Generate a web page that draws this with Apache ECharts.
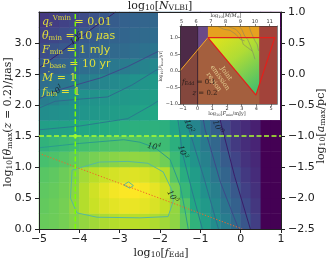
<!DOCTYPE html>
<html><head><meta charset="utf-8">
<script src="https://cdn.jsdelivr.net/npm/echarts@6/dist/echarts.min.js"></script>
<style>html,body{margin:0;padding:0;background:#fff}#c{width:330px;height:263px}</style>
</head><body><div id="c"></div>
<script>
// ---------- DATA ----------
const xCenters = [-4.875,-4.625,-4.375,-4.125,-3.875,-3.625,-3.375,-3.125,-2.875,-2.625,-2.375,-2.125,-1.875,-1.625,-1.375,-1.125,-0.875,-0.625,-0.375,-0.125,0.125,0.375,0.625,0.875];
const yCenters = [0.125,0.375,0.625,0.875,1.125,1.375,1.625,1.875,2.125,2.375,2.625,2.875,3.125,3.375];
// log10 N colour field, rows from bottom (y=0.125) to top (y=3.375)
const fieldRows = [
 [4.15,4.2,4.3,4.45,4.6,4.72,4.82,4.9,4.95,4.95,4.92,4.85,4.72,4.55,4.05,3.4,2.9,2.42,2.0,1.55,1.05,0.52,-0.6,-0.6],
 [4.1,4.18,4.3,4.55,4.9,5.1,5.25,5.35,5.42,5.42,5.36,5.25,5.05,4.6,3.9,3.1,2.72,2.25,1.8,1.3,0.8,0.38,-0.6,-0.6],
 [4.05,4.12,4.25,4.5,4.9,5.15,5.35,5.5,5.58,5.6,5.52,5.38,5.15,4.35,3.5,2.95,2.5,2.05,1.6,1.12,0.57,0.27,-0.6,-0.6],
 [3.97,4.05,4.2,4.4,4.75,4.95,5.1,5.2,5.28,5.3,5.25,5.12,4.92,3.95,3.25,2.8,2.3,1.85,1.4,0.9,0.42,0.18,-0.6,-0.6],
 [3.78,3.85,3.95,4.08,4.2,4.32,4.42,4.5,4.55,4.57,4.55,4.45,4.25,3.6,3.0,2.58,2.1,1.66,1.18,0.65,0.3,0.1,-0.6,-0.6],
 [3.4,3.5,3.58,3.66,3.73,3.78,3.83,3.86,3.88,3.87,3.8,3.72,3.62,3.3,2.85,2.36,1.92,1.45,0.95,0.45,0.2,0.02,-0.6,-0.6],
 [2.88,2.92,2.97,3.02,3.07,3.12,3.17,3.22,3.27,3.3,3.32,3.33,3.3,3.05,2.65,2.2,1.75,1.25,0.75,0.35,0.15,-0.05,-0.6,-0.6],
 [2.4,2.45,2.5,2.55,2.6,2.65,2.72,2.8,2.85,2.92,3.0,3.1,3.2,2.9,2.45,1.95,1.5,1.05,0.5,0.25,0.05,-0.1,-0.6,-0.6],
 [2.0,2.12,2.3,2.45,2.5,2.55,2.6,2.65,2.7,2.75,2.8,2.87,2.95,2.72,2.25,1.8,1.3,0.8,0.38,0.2,0.02,-0.1,-0.6,-0.6],
 [1.6,1.72,1.82,1.92,2.0,2.1,2.2,2.3,2.42,2.52,2.62,2.72,2.8,2.5,2.05,1.58,1.1,0.55,0.27,0.1,0.0,-0.1,-0.6,-0.6],
 [1.2,1.3,1.4,1.5,1.6,1.7,1.78,1.87,1.95,2.05,2.15,2.3,2.4,2.3,1.85,1.4,0.9,0.42,0.2,0.05,-0.05,-0.1,-0.6,-0.6],
 [0.85,1.0,1.12,1.22,1.3,1.37,1.43,1.5,1.56,1.62,1.7,1.8,1.95,1.95,1.65,1.18,0.65,0.3,0.15,0.0,-0.05,-0.1,-0.6,-0.6],
 [0.6,0.72,0.85,0.97,1.1,1.2,1.28,1.35,1.42,1.48,1.53,1.58,1.62,1.65,1.45,0.95,0.45,0.25,0.12,0.0,-0.05,-0.1,-0.6,-0.6],
 [0.4,0.5,0.6,0.7,0.82,0.95,1.1,1.2,1.3,1.35,1.4,1.45,1.5,1.5,1.25,0.7,0.35,0.2,0.1,0.0,-0.05,-0.1,-0.6,-0.6]
];
// contour lines (x = log10 fEdd, y = log10 theta)
const c0Left  = [[-5,2.6],[-4.5,2.83],[-4.07,3.05],[-3.6,3.27],[-3.1,3.5]];
const c0Right = [[-0.8,3.5],[-0.65,2.5],[-0.51,1.76],[-0.15,0.85],[0.24,0]];
const c1Left  = [[-5,2.1],[-4.53,2.24],[-3.46,2.44],[-2.8,2.62],[-2.12,2.84],[-1.6,3.0]];
const c1Right = [[-1.3,2.9],[-1.05,2.2],[-0.88,1.6],[-0.5,0.75],[-0.05,0]];
const c2Left  = [[-5,1.95],[-4.6,2.06],[-3.9,2.1],[-3.3,2.13],[-2.7,2.32],[-2.1,2.56],[-1.7,2.65]];
const c2Right = [[-1.6,2.5],[-1.42,1.9],[-1.3,1.65],[-0.9,0.8],[-0.55,0]];
const c3Line  = [[-5,1.6],[-4,1.66],[-2.8,1.78],[-2.2,2.0],[-1.85,2.15],[-1.62,2.05],[-1.52,1.6],[-1.45,1.24],[-1.2,0.6],[-0.95,0]];
const c4Line  = [[-5,1.31],[-4,1.38],[-2.9,1.44],[-2.5,1.4],[-2.12,1.31],[-1.75,1.12],[-1.5,0.7],[-1.38,0.3],[-1.3,0]];
const c5Loop  = [[-4.18,0.95],[-3.5,1.08],[-2.8,1.09],[-2.3,1.06],[-1.92,0.92],[-1.72,0.65],[-1.67,0.45],[-1.8,0.2],[-2.5,0.18],[-3.56,0.19],[-4.06,0.26],[-4.22,0.5],[-4.18,0.95]];
const c5Small = [[-2.9,0.71],[-2.78,0.76],[-2.66,0.7],[-2.75,0.66],[-2.9,0.71]];
const contourLabelPos = [[-4.07,3.06],[-4.55,2.22],[-2.15,1.32],[-1.45,1.24],[-1.3,1.66],[-0.58,1.65],[-1.7,0.52]];
const contourLabelExp = ['0','1','4','3','2','0','5'];
const dottedLine = [[-5,1.22],[0.04,0]];
const vLine = [[-4.1,0],[-4.1,3.5]];
const hLine = [[-5,1.5],[1,1.5]];
const crossPoint = [[-4.1,1.5]];
// inset (x = log10 F, y = log10 P)
const insetFrame = [[-1.2,-1.0],[5.4,-1.0],[5.4,1.35],[-1.2,1.35]];
const leftStrip = [[-1.2,-1.0],[0,-1.0],[0,1.35],[-1.2,1.35]];
const leftStripUpper = [[-1.2,0.0],[0,0.63],[0,1.35],[-1.2,1.35]];
const purpleWedge = [[0,0.63],[0.7,1.0],[0.7,1.35],[0,1.35]];
const topBand = [[0.7,1.0],[4.2,1.0],[4.2,1.35],[0.7,1.35]];
const jointRegion = [[0.7,1.0],[4.2,1.0],[4.2,-0.42],[3.97,-0.73]];
const rightStrip = [[4.2,-1.0],[5.4,-1.0],[5.4,1.35],[4.2,1.35]];
const redOutline = [[0.7,1.0],[5.25,1.0],[3.97,-0.73],[0.7,1.0]];
const orangeEdge = [[-1.2,0.0],[0.7,1.0]];
const stripEdge = [[0,-1.0],[0,1.35]];
const grayLines = [
 [[1.4,1.33],[1.8,1.25],[2.2,1.22],[2.6,1.1],[2.9,0.95],[3.2,0.9]],
 [[2.0,1.35],[2.3,1.3],[2.6,1.25],[2.9,1.1],[3.1,0.8],[3.4,0.7],[3.7,0.6]],
 [[2.8,1.35],[3.0,1.25],[3.2,1.05],[3.4,0.95],[3.6,0.75],[3.8,0.5],[3.9,0.35]],
 [[3.5,1.35],[3.6,1.2],[3.75,1.05],[3.9,0.9],[4.05,0.8],[4.15,0.6]]
];
const arrowFrom = [0.3,0.85], arrowTo = [1.18,0.39];
const jointTextPos = [1.52,-0.21];
const feddTextPos = [0.09,-0.33];
const zTextPos = [0.5,-0.67];
const insetFTicks = [-1,0,1,2,3,4,5];
const insetMTicks = [5,6,7,8,9,10,11];
const insetPTicks = [-1,-0.5,0,0.5,1];

// ---------- STYLE ----------
const viridis = ['#440154','#482475','#414487','#355f8d','#2a788e','#21918c','#22a884','#44bf70','#7ad151','#bddf26','#fde725'];
const levelColors = ['#3a1e6a','#3d4a8a','#2f6a8e','#2a7b8e','#2b9c8c','#58b99c'];
const minus = v => (v < 0 ? '\u2212' : '') + Math.abs(v);
const minus1 = v => (v < 0 ? '\u2212' : '') + Math.abs(v).toFixed(1);

const heatData = [];
fieldRows.forEach((row, j) => row.forEach((v, i) => heatData.push([i, j, v])));

const mainLine = (data, color, width, type, z) => ({
  type:'line', xAxisIndex:1, yAxisIndex:1, data, symbol:'none', silent:true,
  lineStyle:{color, width, type}, z
});
const insetLine = (data, color, width, z) => ({
  type:'line', xAxisIndex:3, yAxisIndex:3, data, symbol:'none', silent:true,
  lineStyle:{color, width}, z
});

const contourSets = [
  [c0Left,0],[c0Right,0],[c1Left,1],[c1Right,1],[c2Left,2],[c2Right,2],
  [c3Line,3],[c4Line,4],[c5Loop,5],[c5Small,5]
];
const labelAngles = [35,35,-12,-72,-72,-68,-60];

const polys = [insetFrame, leftStrip, leftStripUpper, purpleWedge, topBand, jointRegion, rightStrip];
const polyFills = ['#a45f3e','#84473d','#4d2a48','#6b4a88','#e6a120',
  new echarts.graphic.LinearGradient(0,0,0.85,1,[{offset:0,color:'#e6e419'},{offset:0.45,color:'#b0dc35'},{offset:1,color:'#42be6e'}]),
  '#a2433a'];

const series = [
  {type:'heatmap', xAxisIndex:0, yAxisIndex:0, data:heatData, z:1, silent:true, progressive:0,
   itemStyle:{borderWidth:0}, emphasis:{disabled:true}},
  ...contourSets.map(([pts,l]) => mainLine(pts, levelColors[l], 1, 'solid', 3)),
  mainLine(dottedLine, '#f0652a', 1, [1.3,1.7], 3),
  {type:'scatter', xAxisIndex:1, yAxisIndex:1, z:4, silent:true, symbolSize:1,
   itemStyle:{color:'rgba(0,0,0,0)'},
   data: contourLabelPos.map((p,i) => ({value:p, label:{rotate:labelAngles[i]}})),
   label:{show:true, position:'inside',
     formatter: p => '{b|10}{e|' + contourLabelExp[p.dataIndex] + '}',
     rich:{b:{fontFamily:'DejaVu Serif', fontStyle:'italic', fontSize:8, color:'#111'},
           e:{fontFamily:'DejaVu Serif', fontStyle:'italic', fontSize:5.5, color:'#111', padding:[0,0,6,0]}}}},
  mainLine(vLine, '#7cfc00', 1.5, [5,2.5], 7),
  mainLine(hLine, '#adff2f', 1.5, [5,2.5], 7),
  {type:'scatter', xAxisIndex:1, yAxisIndex:1, data:crossPoint, symbolSize:4, z:8, silent:true,
   itemStyle:{color:'#adff2f'}},
  // inset
  {type:'custom', xAxisIndex:3, yAxisIndex:3, z:11, silent:true, clip:true,
   data: polys.map((_,k) => [k,0]), encode:{x:0,y:1},
   renderItem:(params, api) => ({type:'polygon',
     shape:{points: polys[params.dataIndex].map(p => api.coord(p))},
     style:{fill: polyFills[params.dataIndex]}})},
  ...grayLines.map(g => insetLine(g, 'rgba(125,125,105,0.85)', 0.6, 12)),
  insetLine(stripEdge, '#2a1830', 0.8, 12),
  insetLine(orangeEdge, '#f5a623', 1, 13),
  insetLine(redOutline, '#e3201b', 1.2, 13),
  {type:'line', xAxisIndex:3, yAxisIndex:3, data:[], z:14, silent:true,
   markLine:{silent:true, symbol:['none','arrow'], symbolSize:6, label:{show:false},
     lineStyle:{color:'#f8f3c4', width:2, type:'solid'},
     data:[[{coord:arrowFrom},{coord:arrowTo}]]}},
  {type:'scatter', xAxisIndex:3, yAxisIndex:3, z:14, silent:true, symbolSize:1,
   itemStyle:{color:'rgba(0,0,0,0)'},
   data:[{value:jointTextPos, label:{rotate:-55, formatter:'Joint\nemission\nregion',
     fontFamily:'DejaVu Serif', fontSize:6.5, lineHeight:7.5, color:'#f3e7a2', align:'center'}},
     {value:feddTextPos, label:{formatter:'{i|f}{sb|Edd}{r| = 0.1}'}},
     {value:zTextPos, label:{formatter:'{i|z}{r| = 0.2}'}}],
   label:{show:true, position:'inside',
     rich:{i:{fontFamily:'DejaVu Serif', fontStyle:'italic', fontSize:7, color:'#111'},
           r:{fontFamily:'DejaVu Serif', fontSize:7, color:'#111'},
           sb:{fontFamily:'DejaVu Serif', fontSize:5, color:'#111', padding:[4,0,0,0]}}}}
];

const axLine = c => ({show:true, onZero:false, lineStyle:{color:c, width:1}});
const tickLbl = {color:'#222', fontSize:11, fontFamily:'DejaVu Sans'};
const inLbl = {color:'#333', fontSize:5, fontFamily:'DejaVu Sans'};

const Y = '#e2df3a';
const annRich = {
  i:{fontFamily:'DejaVu Serif', fontStyle:'italic', fontSize:11, fill:Y},
  r:{fontFamily:'DejaVu Serif', fontSize:11, fill:Y},
  s:{fontFamily:'DejaVu Sans', fontSize:11, fill:Y},
  sb:{fontFamily:'DejaVu Serif', fontSize:7, fill:Y, padding:[5,0,0,0]},
  sbi:{fontFamily:'DejaVu Serif', fontStyle:'italic', fontSize:7, fill:Y, padding:[5,0,0,0]},
  sp:{fontFamily:'DejaVu Serif', fontSize:7, fill:Y, padding:[0,0,7,0]}
};
const annLines = [
  '{i|q}{sbi|s}{sp|Vmin}{r| = 0.01}',
  '{i|θ}{sb|min}{r| = 10 }{i|μ}{s|as}',
  '{i|F}{sb|min}{r| = 1 }{s|mJy}',
  '{i|P}{sb|base}{r| = 10 }{s|yr}',
  '{i|Ṁ}{r| = 1}',
  '{i|f}{sb|bin}{r| = 1}'
];
const mkRich = (c, fs) => ({
  r:{fontFamily:'DejaVu Serif', fontSize:fs, fill:c},
  i:{fontFamily:'DejaVu Serif', fontStyle:'italic', fontSize:fs, fill:c},
  sb:{fontFamily:'DejaVu Serif', fontSize:fs*0.7, fill:c, padding:[fs*0.45,0,0,0]}
});
const axText = (x, y, text, rot, fs, c, z) => ({type:'text', x, y, rotation:rot, z, silent:true,
  style:{text, rich:mkRich(c, fs), align:'center', verticalAlign:'middle'}});

const graphic = [
  {type:'rect', shape:{x:158, y:13, width:122, height:107}, style:{fill:'#fff'}, z:10, silent:true},
  ...annLines.map((t,k) => ({type:'text', x:42, y:22 + k*14, z:6, silent:true,
     style:{text:t, rich:annRich, align:'left', verticalAlign:'middle'}})),
  axText(160, 6, '{r|log}{sb|10}{r|[}{i|N}{sb|VLBI}{r|]}', 0, 11, '#222', 6),
  axText(161, 253, '{r|log}{sb|10}{r|[}{i|f}{sb|Edd}{r|]}', 0, 11, '#222', 6),
  axText(8, 122, '{r|log}{sb|10}{r|[}{i|θ}{sb|max}{r|(}{i|z}{r| = 0.2)/}{i|μ}{r|as]}', Math.PI/2, 11, '#222', 6),
  axText(321, 126, '{r|log}{sb|10}{r|[}{i|a}{sb|max}{r|/pc]}', Math.PI/2, 11, '#222', 6),
  axText(227, 114, '{r|log}{sb|10}{r|[}{i|F}{sb|min}{r|/mJy]}', 0, 5, '#333', 16),
  axText(226, 16, '{r|log}{sb|10}{r|[}{i|M}{r|/}{i|M}{sb|⊙}{r|]}', 0, 5, '#333', 16),
  axText(161, 66, '{r|log}{sb|10}{r|[}{i|P}{sb|base}{r|/yr]}', Math.PI/2, 4.5, '#333', 16)
];

const option = {
  animation:false,
  grid:[
    {left:39, top:12, width:242, height:217},
    {left:39, top:12, width:242, height:217},
    {left:180, top:26, width:97, height:78}
  ],
  visualMap:{type:'continuous', show:false, min:-0.6, max:5.6, seriesIndex:0, inRange:{color:viridis}},
  xAxis:[
    {gridIndex:0, type:'category', data:xCenters, show:false},
    {gridIndex:1, type:'value', min:-5, max:1, interval:1, position:'bottom', z:5,
     axisLine:axLine('#222'), axisTick:{length:4, lineStyle:{color:'#222'}},
     axisLabel:Object.assign({margin:5, formatter:minus}, tickLbl), splitLine:{show:false}},
    {gridIndex:1, type:'value', min:-5, max:1, position:'top', z:5,
     axisLine:axLine('#222'), axisTick:{show:false}, axisLabel:{show:false}, splitLine:{show:false}},
    {gridIndex:2, type:'value', min:-1.2, max:5.4, position:'bottom', z:15,
     axisLine:{show:true, onZero:false, lineStyle:{color:'#333', width:0.6}},
     axisTick:{length:2, customValues:insetFTicks, lineStyle:{width:0.6}},
     axisLabel:Object.assign({customValues:insetFTicks, margin:2, formatter:minus}, inLbl), splitLine:{show:false}},
    {gridIndex:2, type:'value', min:4.9, max:11.5, position:'top', z:15,
     axisLine:{show:true, onZero:false, lineStyle:{color:'#333', width:0.6}},
     axisTick:{length:2, customValues:insetMTicks, lineStyle:{width:0.6}},
     axisLabel:Object.assign({customValues:insetMTicks, margin:2}, inLbl), splitLine:{show:false}}
  ],
  yAxis:[
    {gridIndex:0, type:'category', data:yCenters, show:false},
    {gridIndex:1, type:'value', min:0, max:3.5, interval:0.5, position:'left', z:5,
     axisLine:axLine('#222'), axisTick:{length:4, lineStyle:{color:'#222'}},
     axisLabel:Object.assign({margin:7, showMaxLabel:false, formatter:minus1}, tickLbl), splitLine:{show:false}},
    {gridIndex:1, type:'value', min:-2.5, max:1, interval:0.5, position:'right', z:5,
     axisLine:axLine('#222'), axisTick:{length:4, lineStyle:{color:'#222'}},
     axisLabel:Object.assign({margin:7, formatter:minus1}, tickLbl), splitLine:{show:false}},
    {gridIndex:2, type:'value', min:-1, max:1.35, position:'left', z:15,
     axisLine:{show:true, onZero:false, lineStyle:{color:'#333', width:0.6}},
     axisTick:{length:2, customValues:insetPTicks, lineStyle:{width:0.6}},
     axisLabel:Object.assign({customValues:insetPTicks, margin:2, formatter:minus1}, inLbl), splitLine:{show:false}},
    {gridIndex:2, type:'value', min:-1, max:1.35, position:'right', z:15,
     axisLine:{show:true, onZero:false, lineStyle:{color:'#333', width:0.6}},
     axisTick:{show:false}, axisLabel:{show:false}, splitLine:{show:false}}
  ],
  series,
  graphic
};
const chart = echarts.init(document.getElementById('c'), null, {renderer:'canvas'});
chart.setOption(option);
</script>
</body></html>
